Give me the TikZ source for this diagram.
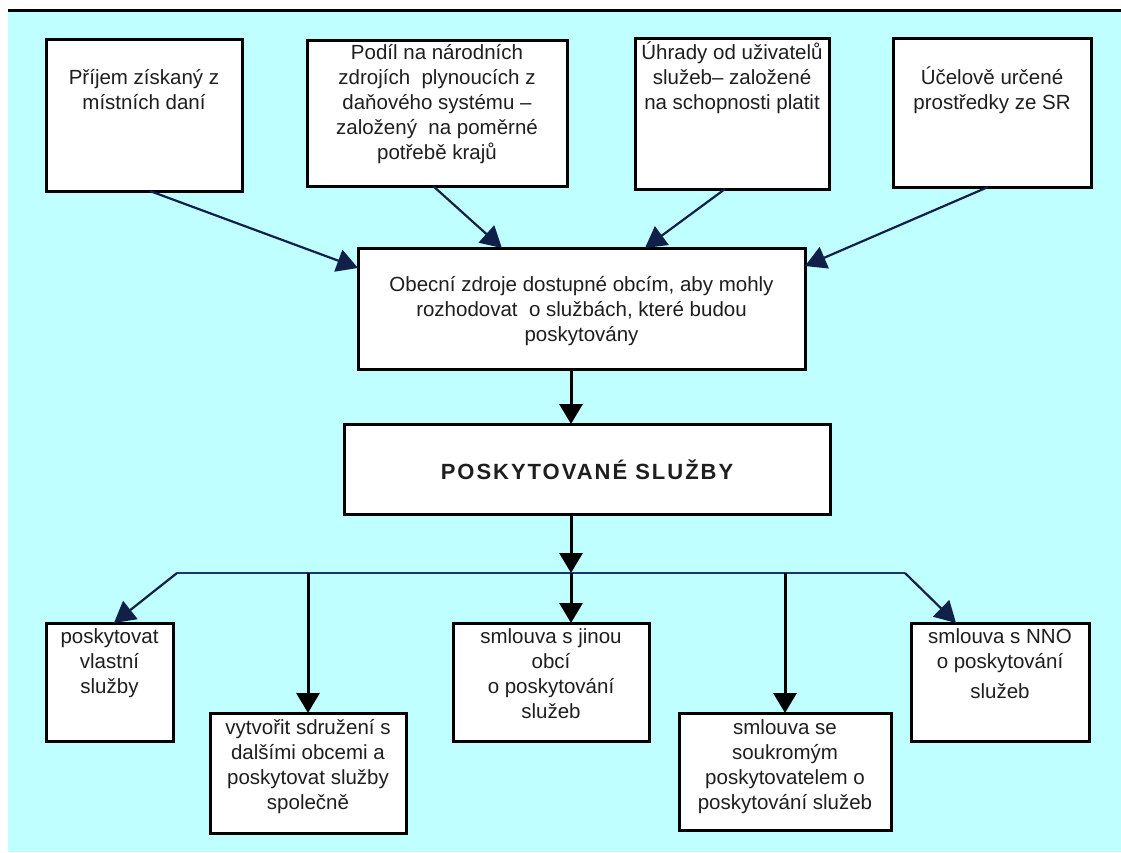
\documentclass[tikz,border=0pt]{standalone}
\usepackage{fontspec}
\setmainfont{Liberation Sans}
\usetikzlibrary{arrows.meta,calc}
\definecolor{bgcyan}{RGB}{192,255,255}
\definecolor{navy}{RGB}{16,32,72}
\definecolor{busblue}{RGB}{24,56,104}
\definecolor{txtcol}{RGB}{30,30,30}
\newcommand\bxt[4]{\parbox[c][#2][t]{#1}{\vspace*{#3}\centering\rule{0pt}{20pt}#4\par}}
\newcommand\cl[1]{\makebox[0pt]{#1}}
\tikzset{
  box/.style={draw=black, line width=3pt, fill=white, inner sep=0pt, outer sep=0pt,
    font=\fontsize{20.5}{25}\selectfont, text=txtcol},
  arr/.style={-{Triangle[length=21pt,width=23pt]}, line width=2.2pt, draw=navy},
  varr/.style={-{Triangle[length=20pt,width=23pt]}, line width=3pt, draw=black},
  bus/.style={line width=2.6pt, draw=busblue},
}
\begin{document}
\begin{tikzpicture}[x=1pt,y=-1pt]
\useasboundingbox (0,0) rectangle (1121,852);
\fill[white] (0,0) rectangle (1121,852);
\fill[bgcyan] (8,12) rectangle (1121,852);
\draw[line width=3.5pt] (8,10.7) -- (1121,10.7);

% top row
\node[box] (b1) at (144,115) {\bxt{196pt}{152pt}{25pt}{\cl{Příjem získaný z}\\\cl{místních daní}}};
\node[box] (b2) at (437,113) {\bxt{260pt}{146pt}{-1pt}{\cl{Podíl na národních}\\\cl{zdrojích\ \ plynoucích z}\\\cl{daňového systému –}\\\cl{založený\ \ na poměrné}\\\cl{potřebě krajů}}};
\node[box] (b3) at (732,113.5) {\bxt{194pt}{151pt}{1pt}{\cl{Úhrady od uživatelů}\\\cl{služeb– založené}\\\cl{na schopnosti platit}}};
\node[box] (b4) at (992,112.5) {\bxt{198pt}{149pt}{26pt}{\cl{Účelově určené}\\\cl{prostředky ze SR}}};

% middle
\node[box] (bc) at (581.5,308.5) {\bxt{447pt}{121pt}{23pt}{\cl{Obecní zdroje dostupné obcím, aby mohly}\\\cl{rozhodovat\ \ o službách, které budou}\\\cl{poskytovány}}};
\node[box, font=\fontsize{22}{25}\selectfont\bfseries\addfontfeatures{LetterSpace=9}] (bp) at (587,469) {\bxt{486pt}{90pt}{35pt}{\cl{POSKYTOVANÉ SLUŽBY}}};

% bottom row
\node[box] (b5) at (109.5,682) {\bxt{127pt}{118pt}{0pt}{\cl{poskytovat}\\\cl{vlastní}\\\cl{služby}}};
\node[box] (b6) at (308,773) {\bxt{196pt}{120pt}{1pt}{\cl{vytvořit sdružení s}\\\cl{dalšími obcemi a}\\\cl{poskytovat služby}\\\cl{společně}}};
\node[box] (b7) at (551,682) {\bxt{196pt}{118pt}{0pt}{\cl{smlouva s jinou}\\\cl{obcí}\\\cl{o poskytování}\\\cl{služeb}}};
\node[box] (b8) at (785,771.5) {\bxt{212pt}{117pt}{1pt}{\cl{smlouva se}\\\cl{soukromým}\\\cl{poskytovatelem o}\\\cl{poskytování služeb}}};
\node[box] (b9) at (1000,682) {\bxt{178pt}{118pt}{0pt}{\cl{smlouva s NNO}\\\cl{o poskytování}\\[5pt]\cl{služeb}}};

% junctions on the bus
\coordinate (j5) at (177,573);
\coordinate (j6) at (308,573);
\coordinate (jm) at (571,573);
\coordinate (j8) at (785,573);
\coordinate (j9) at (905,573);

% arrows into the middle box
\draw[arr] ($(b1.south west)!0.53!(b1.south east)$) -- ($(bc.north west)!0.165!(bc.south west)$);
\draw[arr] ($(b2.south west)!0.485!(b2.south east)$) -- ($(bc.north west)!0.322!(bc.north east)$);
\draw[arr] ($(b3.south west)!0.464!(b3.south east)$) -- ($(bc.north west)!0.642!(bc.north east)$);
\draw[arr] ($(b4.south west)!0.48!(b4.south east)$) -- ($(bc.north east)!0.149!(bc.south east)$);

% middle chain
\coordinate (c1) at ($(bc.south west)!0.4765!(bc.south east)$);
\draw[varr] (c1) -- (c1 |- bp.north);
\draw[varr] (jm |- bp.south) -- (jm);
\draw[bus] (j5) -- (j9);
\draw[varr] (jm) -- (jm |- b7.north);

% branches
\draw[arr] (j5) -- ($(b5.north west)!0.535!(b5.north east)$);
\draw[varr] (j6) -- (j6 |- b6.north);
\draw[varr] (j8) -- (j8 |- b8.north);
\draw[arr] (j9) -- ($(b9.north west)!0.253!(b9.north east)$);
\end{tikzpicture}
\end{document}
